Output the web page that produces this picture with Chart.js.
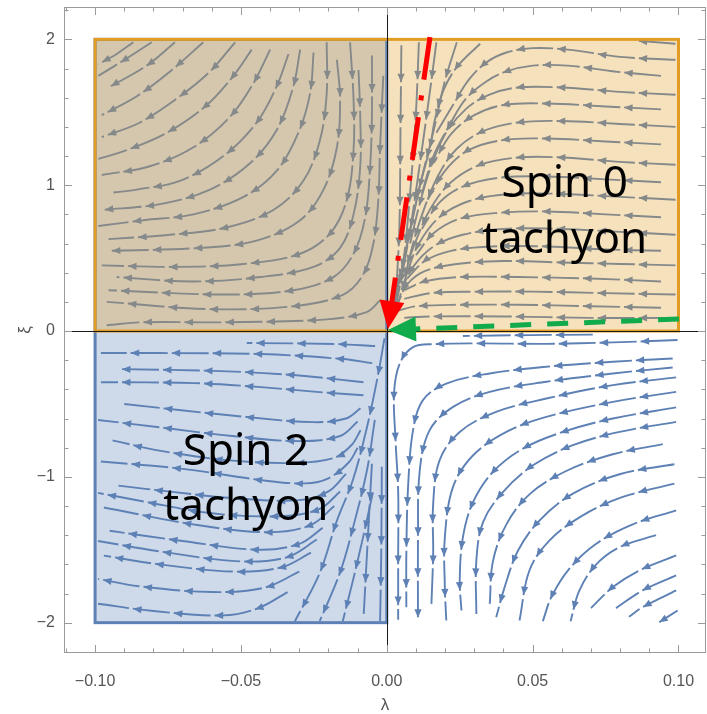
<!DOCTYPE html>
<html>
<head>
<meta charset="utf-8">
<script src="https://cdn.jsdelivr.net/npm/chart.js@4.4.0/dist/chart.umd.min.js"></script>
<style>
html, body { margin: 0; padding: 0; background: #fff; }
canvas { display: block; }
</style>
</head>
<body>
<canvas id="c" width="707" height="714"></canvas>
<script>
// tick labels
var xTickVals = [-0.1, -0.05, 0, 0.05, 0.1];
var yTickVals = [-2, -1, 0, 1, 2];

// shaded regions: [lambdaMin, lambdaMax, xiMin, xiMax]
var spin2Box = [-0.1, 0, -2, 2];
var spin0Box = [-0.1, 0.1, 0, 2];

// highlighted flows, [lambda, xi]
var redFlow = [[0.0148, 2.016], [0.0004, 0.014]];
var greenFlow = [[0.1002, 0.082], [0.0004, 0.007]];

// region labels: [lambda, xi of baseline, text]
var regionLabels = [
    [0.061, 0.92, 'Spin 0'], [0.061, 0.535, 'tachyon'],
    [-0.0483, -0.921, 'Spin 2'], [-0.0483, -1.299, 'tachyon']
];

// streamlines, points in flow order [lambda, xi]
var streamTopLeft = [
    [[-0.0869,1.98],[-0.0926,1.90],[-0.0989,1.83]],
    [[-0.0806,1.98],[-0.0891,1.87],[-0.0989,1.75]],
    [[-0.0726,1.98],[-0.0823,1.82],[-0.0954,1.67]],
    [[-0.0629,1.98],[-0.0743,1.78],[-0.0857,1.61],[-0.0977,1.48]],
    [[-0.052,1.98],[-0.0606,1.78],[-0.0709,1.61],[-0.0846,1.43],[-0.0977,1.33]],
    [[-0.0463,1.93],[-0.0526,1.75],[-0.0617,1.55],[-0.0754,1.36],[-0.0892,1.24],[-0.0989,1.18]],
    [[-0.040,1.93],[-0.0457,1.70],[-0.0537,1.47],[-0.0663,1.26],[-0.0812,1.13],[-0.0977,1.07]],
    [[-0.0337,1.90],[-0.0377,1.68],[-0.0446,1.43],[-0.056,1.20],[-0.0709,1.03],[-0.0857,0.97],[-0.0937,0.95]],
    [[-0.0297,1.93],[-0.032,1.68],[-0.0377,1.38],[-0.0469,1.15],[-0.0606,0.97],[-0.0777,0.87],[-0.0977,0.83]],
    [[-0.0251,1.91],[-0.0263,1.63],[-0.0303,1.36],[-0.0377,1.10],[-0.0491,0.92],[-0.0663,0.80],[-0.0834,0.76],[-0.0989,0.72]],
    [[-0.0206,1.98],[-0.0206,1.63],[-0.0229,1.31],[-0.0286,1.03],[-0.0389,0.83],[-0.0549,0.71],[-0.0743,0.66],[-0.0954,0.63]],
    [[-0.0171,1.86],[-0.016,1.59],[-0.0171,1.26],[-0.0217,0.97],[-0.0297,0.76],[-0.0446,0.62],[-0.064,0.57],[-0.0949,0.55]],
    [[-0.0126,1.98],[-0.0114,1.59],[-0.0114,1.24],[-0.0137,0.90],[-0.0194,0.67],[-0.0297,0.53],[-0.0491,0.46],[-0.072,0.44],[-0.0977,0.45]],
    [[-0.0097,1.79],[-0.0091,1.47],[-0.0091,1.13],[-0.0114,0.80],[-0.016,0.57],[-0.0251,0.44],[-0.0434,0.37],[-0.0663,0.34],[-0.0926,0.37]],
    [[-0.0051,1.89],[-0.0051,1.47],[-0.0057,1.13],[-0.0074,0.78],[-0.0114,0.53],[-0.0183,0.37],[-0.032,0.28],[-0.0549,0.25],[-0.0954,0.28]],
    [[-0.0012,1.75],[-0.0023,1.26],[-0.0029,0.90],[-0.0046,0.60],[-0.008,0.39],[-0.0149,0.25],[-0.032,0.17],[-0.0606,0.15],[-0.096,0.20]],
    [[-0.0023,0.21],[-0.0069,0.13],[-0.0206,0.08],[-0.0549,0.06],[-0.0834,0.06],[-0.096,0.04]]
];

var streamTopRight = [
    [[0.099,1.97],[0.086,1.99]],
    [[0.099,1.86],[0.080,1.88],[0.062,1.93],[0.050,1.94],[0.041,1.91],[0.034,1.84],[0.028,1.72],[0.023,1.56],[0.017,1.36]],
    [[0.094,1.75],[0.078,1.78],[0.062,1.82],[0.050,1.82],[0.041,1.78],[0.034,1.71],[0.027,1.59],[0.022,1.43],[0.016,1.20],[0.012,0.94]],
    [[0.099,1.62],[0.080,1.64],[0.060,1.67],[0.045,1.67],[0.035,1.62],[0.027,1.52],[0.020,1.35],[0.015,1.12],[0.011,0.85],[0.008,0.6]],
    [[0.094,1.52],[0.075,1.54],[0.055,1.56],[0.040,1.55],[0.030,1.48],[0.022,1.35],[0.016,1.15]],
    [[0.099,1.40],[0.080,1.42],[0.060,1.44],[0.045,1.43],[0.033,1.37],[0.024,1.25],[0.018,1.08],[0.013,0.85],[0.009,0.6],[0.006,0.35]],
    [[0.094,1.28],[0.075,1.30],[0.055,1.32],[0.040,1.31],[0.028,1.24],[0.020,1.10],[0.014,0.90]],
    [[0.099,1.14],[0.080,1.16],[0.060,1.19],[0.045,1.19],[0.032,1.14],[0.022,1.02],[0.015,0.84],[0.010,0.62],[0.006,0.40]],
    [[0.094,1.02],[0.075,1.04],[0.055,1.06],[0.038,1.05],[0.026,0.99],[0.018,0.88],[0.012,0.70]],
    [[0.099,0.90],[0.080,0.92],[0.060,0.94],[0.042,0.94],[0.028,0.89],[0.018,0.78],[0.011,0.60],[0.007,0.40],[0.004,0.2]],
    [[0.094,0.78],[0.075,0.80],[0.055,0.82],[0.038,0.81],[0.025,0.77],[0.016,0.67],[0.010,0.52]],
    [[0.099,0.66],[0.080,0.68],[0.060,0.70],[0.040,0.70],[0.026,0.66],[0.016,0.58],[0.009,0.44],[0.005,0.28]],
    [[0.094,0.55],[0.075,0.56],[0.055,0.58],[0.036,0.58],[0.022,0.55],[0.013,0.48],[0.007,0.36]],
    [[0.099,0.45],[0.080,0.46],[0.060,0.47],[0.040,0.48],[0.024,0.46],[0.013,0.41],[0.007,0.32],[0.004,0.2]],
    [[0.094,0.34],[0.070,0.36],[0.045,0.37],[0.025,0.37],[0.013,0.34],[0.006,0.28]],
    [[0.099,0.25],[0.075,0.26],[0.050,0.27],[0.030,0.27],[0.015,0.26],[0.006,0.22]],
    [[0.094,0.16],[0.070,0.17],[0.045,0.18],[0.025,0.18],[0.010,0.17],[0.004,0.14]],
    [[0.099,0.09],[0.070,0.09],[0.040,0.10],[0.015,0.10],[0.006,0.09]],
    [[0.005,1.96],[0.0047,1.4],[0.0043,0.7],[0.003,0.2]],
    [[0.011,1.98],[0.010,1.5],[0.008,0.95],[0.0055,0.45],[0.002,0.09]],
    [[0.017,1.98],[0.0145,1.6],[0.011,1.1],[0.0074,0.62],[0.003,0.16]],
    [[0.024,1.98],[0.020,1.72],[0.016,1.37],[0.011,0.97],[0.0062,0.52],[0.002,0.14]],
    [[0.032,1.97],[0.024,1.81],[0.0194,1.65],[0.0165,1.45],[0.0148,1.26],[0.0113,0.99],[0.007,0.6],[0.003,0.25]]
];

var streamBottomLeft = [
    [[-0.004,-0.103],[-0.018,-0.089],[-0.048,-0.082]],
    [[-0.005,-0.220],[-0.015,-0.192],[-0.043,-0.158],[-0.078,-0.151],[-0.098,-0.151]],
    [[-0.008,-0.351],[-0.032,-0.302],[-0.057,-0.275],[-0.092,-0.261]],
    [[-0.008,-0.44],[-0.023,-0.419],[-0.043,-0.385],[-0.066,-0.357],[-0.098,-0.351]],
    [[-0.009,-0.53],[-0.014,-0.60],[-0.025,-0.625],[-0.048,-0.59],[-0.072,-0.54],[-0.090,-0.50]],
    [[-0.010,-0.62],[-0.016,-0.72],[-0.030,-0.755],[-0.053,-0.72],[-0.078,-0.66],[-0.099,-0.61]],
    [[-0.009,-0.68],[-0.012,-0.78],[-0.018,-0.87],[-0.032,-0.905],[-0.055,-0.885],[-0.078,-0.82],[-0.094,-0.75]],
    [[-0.010,-0.80],[-0.013,-0.90],[-0.020,-1.01],[-0.028,-1.045],[-0.042,-1.025],[-0.07,-0.945],[-0.098,-0.895]],
    [[-0.014,-0.98],[-0.020,-1.10],[-0.030,-1.16],[-0.05,-1.15],[-0.075,-1.10],[-0.092,-1.06]],
    [[-0.016,-1.10],[-0.023,-1.22],[-0.036,-1.27],[-0.06,-1.25],[-0.083,-1.17],[-0.099,-1.11]],
    [[-0.018,-1.20],[-0.026,-1.33],[-0.040,-1.38],[-0.065,-1.33],[-0.097,-1.21]],
    [[-0.022,-1.35],[-0.030,-1.46],[-0.044,-1.50],[-0.07,-1.44],[-0.095,-1.37]],
    [[-0.024,-1.43],[-0.034,-1.55],[-0.050,-1.58],[-0.075,-1.52],[-0.099,-1.44]],
    [[-0.026,-1.52],[-0.036,-1.62],[-0.052,-1.65],[-0.078,-1.60],[-0.097,-1.54]],
    [[-0.030,-1.65],[-0.042,-1.76],[-0.060,-1.79],[-0.085,-1.75],[-0.099,-1.70]],
    [[-0.034,-1.79],[-0.044,-1.90],[-0.056,-1.95],[-0.080,-1.92],[-0.099,-1.87]],
    [[-0.0008,-0.05],[-0.003,-0.30],[-0.0068,-0.66],[-0.0116,-1.02],[-0.0171,-1.30],[-0.023,-1.66],[-0.0315,-1.99]],
    [[-0.0041,-0.61],[-0.0068,-0.955],[-0.0116,-1.35],[-0.0161,-1.66],[-0.023,-1.99]],
    [[-0.0048,-1.11],[-0.0082,-1.42],[-0.0116,-1.71],[-0.0151,-1.99]],
    [[-0.0051,-0.91],[-0.0065,-1.42],[-0.0079,-1.94]],
    [[-0.0017,-0.93],[-0.0019,-1.52],[-0.0023,-1.99]]
];

var streamBottomRight = [
    [[0.0706,-0.025],[0.0489,-0.028],[0.0261,-0.034]],
    [[0.0997,-0.062],[0.0775,-0.078],[0.0547,-0.088],[0.032,-0.085],[0.016,-0.09],[0.009,-0.11],[0.0045,-0.22],[0.0025,-0.42],[0.003,-0.75],[0.0039,-1.10],[0.0039,-1.55],[0.0039,-1.98]],
    [[0.098,-0.188],[0.0775,-0.211],[0.0547,-0.245],[0.0353,-0.291],[0.0204,-0.360],[0.0124,-0.474],[0.009,-0.680],[0.0073,-1.069],[0.0067,-1.527],[0.0067,-1.894]],
    [[0.098,-0.25],[0.0775,-0.291],[0.0547,-0.348],[0.0353,-0.417],[0.0227,-0.520],[0.0147,-0.680],[0.0113,-0.955],[0.0107,-1.413],[0.0107,-1.963]],
    [[0.0992,-0.318],[0.0775,-0.371],[0.0547,-0.463],[0.0375,-0.554],[0.025,-0.692],[0.0181,-0.886],[0.0159,-1.184],[0.0159,-1.527],[0.0153,-1.871]],
    [[0.0992,-0.417],[0.0775,-0.486],[0.0547,-0.589],[0.041,-0.692],[0.0296,-0.852],[0.0227,-1.069],[0.0199,-1.413],[0.0199,-1.756],[0.0204,-1.985]],
    [[0.0992,-0.524],[0.0775,-0.600],[0.0604,-0.692],[0.0467,-0.806],[0.0364,-0.966],[0.0296,-1.172],[0.0261,-1.413],[0.025,-1.711],[0.0256,-1.917]],
    [[0.0992,-0.623],[0.0798,-0.692],[0.0638,-0.783],[0.0501,-0.921],[0.0398,-1.104],[0.033,-1.310],[0.0307,-1.573],[0.0307,-1.94]],
    [[0.0946,-0.776],[0.0775,-0.845],[0.0615,-0.96],[0.0489,-1.12],[0.041,-1.326],[0.0364,-1.578],[0.0353,-1.871]],
    [[0.0986,-0.914],[0.0798,-0.982],[0.0638,-1.115],[0.0524,-1.298],[0.045,-1.505],[0.0404,-1.756],[0.0375,-1.963]],
    [[0.0986,-1.047],[0.0809,-1.138],[0.0672,-1.264],[0.0558,-1.436],[0.0489,-1.642],[0.0455,-1.985]],
    [[0.0992,-1.23],[0.0843,-1.326],[0.0718,-1.459],[0.0626,-1.630],[0.0564,-1.825],[0.0535,-1.99]],
    [[0.0923,-1.40],[0.080,-1.48],[0.0718,-1.60],[0.0660,-1.78],[0.0630,-1.99]],
    [[0.0992,-1.539],[0.0866,-1.642],[0.0775,-1.756],[0.0700,-1.90]],
    [[0.0992,-1.676],[0.0877,-1.779],[0.0786,-1.90]],
    [[0.0992,-1.779],[0.0877,-1.894],[0.083,-1.96]],
    [[0.0997,-1.917],[0.0934,-1.997]]
];

var streamColor = '#5E81B5';
var blueLine = '#5E81B5', blueFill = 'rgba(94,129,181,0.3)';
var orangeLine = '#E19C24', orangeFill = 'rgba(225,156,36,0.3)';
var redColor = '#ff0000', greenColor = '#12ab4c';
var axisGray = '#9a9a9a', labelGray = '#555';

var DASH = 37, GAP = 4;

function toXY(p) { return {x: p[0], y: p[1]}; }

var datasets = [];
datasets.push({
    data: redFlow.map(toXY), showLine: true, pointRadius: 0, borderColor: redColor,
    borderWidth: 5, borderDash: [43, 16, 5, 17], borderCapStyle: 'butt', tension: 0, flow: 'red'
});
datasets.push({
    data: greenFlow.map(toXY), showLine: true, pointRadius: 0, borderColor: greenColor,
    borderWidth: 5, borderDash: [21, 16], borderCapStyle: 'butt', tension: 0, flow: 'green'
});
[streamTopLeft, streamTopRight, streamBottomLeft, streamBottomRight].forEach(function (group) {
    group.forEach(function (line) {
        datasets.push({
            data: line.map(toXY), showLine: true, pointRadius: 0, borderColor: streamColor,
            borderWidth: 1.9, borderDash: [DASH, GAP], borderCapStyle: 'butt', tension: 0.35, stream: true
        });
    });
});

function arrowHead(ctx, tx, ty, dx, dy, len, half, color) {
    var n = Math.sqrt(dx * dx + dy * dy) || 1;
    dx /= n; dy /= n;
    var bx = tx - dx * len, by = ty - dy * len;
    ctx.fillStyle = color;
    ctx.beginPath();
    ctx.moveTo(tx, ty);
    ctx.lineTo(bx - dy * half, by + dx * half);
    ctx.lineTo(bx + dy * half, by - dx * half);
    ctx.closePath();
    ctx.fill();
}

// pixel polyline following the drawn bezier curve
function samplePath(pts) {
    var out = [[pts[0].x, pts[0].y]];
    for (var i = 0; i < pts.length - 1; i++) {
        var a = pts[i], b = pts[i + 1];
        var c1x = a.cp2x != null ? a.cp2x : a.x, c1y = a.cp2y != null ? a.cp2y : a.y;
        var c2x = b.cp1x != null ? b.cp1x : b.x, c2y = b.cp1y != null ? b.cp1y : b.y;
        for (var k = 1; k <= 16; k++) {
            var t = k / 16, u = 1 - t;
            out.push([
                u * u * u * a.x + 3 * u * u * t * c1x + 3 * u * t * t * c2x + t * t * t * b.x,
                u * u * u * a.y + 3 * u * u * t * c1y + 3 * u * t * t * c2y + t * t * t * b.y
            ]);
        }
    }
    return out;
}

function drawStreamArrows(chart) {
    var ctx = chart.ctx;
    chart.data.datasets.forEach(function (ds, i) {
        if (!ds.stream) return;
        var meta = chart.getDatasetMeta(i);
        if (meta.dataset && meta.dataset.updateControlPoints) meta.dataset.updateControlPoints(chart.chartArea, 'x');
        var path = samplePath(meta.data);
        var cum = [0];
        for (var j = 1; j < path.length; j++) {
            var ddx = path[j][0] - path[j - 1][0], ddy = path[j][1] - path[j - 1][1];
            cum.push(cum[j - 1] + Math.sqrt(ddx * ddx + ddy * ddy));
        }
        var total = cum[cum.length - 1];
        var tips = [];
        for (var s = DASH; s <= total + 0.5; s += DASH + GAP) tips.push(s);
        if (!tips.length) tips.push(total);
        tips.forEach(function (s) {
            var j = 1;
            while (j < cum.length - 1 && cum[j] < s) j++;
            var f = (s - cum[j - 1]) / ((cum[j] - cum[j - 1]) || 1);
            var tx = path[j - 1][0] + f * (path[j][0] - path[j - 1][0]);
            var ty = path[j - 1][1] + f * (path[j][1] - path[j - 1][1]);
            arrowHead(ctx, tx, ty, path[j][0] - path[j - 1][0], path[j][1] - path[j - 1][1], 8.5, 3.6, streamColor);
        });
    });
}

function boxPx(chart, b) {
    var x = chart.scales.x, y = chart.scales.y;
    var x0 = x.getPixelForValue(b[0]), x1 = x.getPixelForValue(b[1]);
    var y0 = y.getPixelForValue(b[3]), y1 = y.getPixelForValue(b[2]);
    return [x0, y0, x1 - x0, y1 - y0];
}

var overlayPlugin = {
    id: 'overlay',
    beforeDatasetDraw: function (chart, args) {
        if (args.index !== 1) return;
        var ctx = chart.ctx, area = chart.chartArea;
        ctx.save();
        ctx.beginPath();
        ctx.rect(area.left, area.top, area.right - area.left, area.bottom - area.top);
        ctx.clip();
        drawStreamArrows(chart);
        var b2 = boxPx(chart, spin2Box), b0 = boxPx(chart, spin0Box);
        ctx.fillStyle = blueFill;
        ctx.fillRect(b2[0], b2[1], b2[2], b2[3]);
        ctx.fillStyle = orangeFill;
        ctx.fillRect(b0[0], b0[1], b0[2], b0[3]);
        ctx.lineWidth = 3;
        ctx.strokeStyle = blueLine;
        ctx.strokeRect(b2[0], b2[1], b2[2], b2[3]);
        ctx.strokeStyle = orangeLine;
        ctx.strokeRect(b0[0], b0[1], b0[2], b0[3]);
        // coordinate axes
        var x0 = Math.round(chart.scales.x.getPixelForValue(0)) + 0.5;
        var y0 = Math.round(chart.scales.y.getPixelForValue(0)) + 0.5;
        ctx.strokeStyle = '#1a1a1a';
        ctx.lineWidth = 1;
        ctx.beginPath();
        ctx.moveTo(x0, area.top); ctx.lineTo(x0, area.bottom);
        ctx.moveTo(area.left, y0); ctx.lineTo(area.right, y0);
        ctx.stroke();
        ctx.restore();
    },
    afterDatasetsDraw: function (chart) {
        var ctx = chart.ctx, area = chart.chartArea;
        var xs = chart.scales.x, ys = chart.scales.y;
        // heads of the highlighted flows
        [[redFlow, redColor], [greenFlow, greenColor]].forEach(function (f) {
            var a = f[0][0], b = f[0][1];
            var ax = xs.getPixelForValue(a[0]), ay = ys.getPixelForValue(a[1]);
            var bx = xs.getPixelForValue(b[0]), by = ys.getPixelForValue(b[1]);
            arrowHead(ctx, bx, by, bx - ax, by - ay, 28, 12.5, f[1]);
        });
        // region labels
        ctx.save();
        ctx.fillStyle = '#000';
        ctx.font = '44px "Noto Sans"';
        ctx.textAlign = 'center';
        ctx.textBaseline = 'alphabetic';
        regionLabels.forEach(function (l) {
            ctx.fillText(l[2], xs.getPixelForValue(l[0]), ys.getPixelForValue(l[1]));
        });
        ctx.restore();
        // frame and inward ticks
        ctx.save();
        ctx.strokeStyle = axisGray;
        ctx.lineWidth = 1;
        ctx.strokeRect(area.left + 0.5, area.top + 0.5, area.right - area.left - 1, area.bottom - area.top - 1);
        ctx.beginPath();
        for (var k = -11; k <= 10; k++) {
            var px = Math.round(xs.getPixelForValue(k / 100)) + 0.5;
            var len = (k % 5 === 0) ? 8 : 4.5;
            ctx.moveTo(px, area.bottom); ctx.lineTo(px, area.bottom - len);
            ctx.moveTo(px, area.top); ctx.lineTo(px, area.top + len);
        }
        for (var m = -11; m <= 11; m++) {
            var py = Math.round(ys.getPixelForValue(m * 0.2)) + 0.5;
            var len2 = (m % 5 === 0) ? 8 : 4.5;
            ctx.moveTo(area.left, py); ctx.lineTo(area.left + len2, py);
            ctx.moveTo(area.right, py); ctx.lineTo(area.right - len2, py);
        }
        ctx.stroke();
        ctx.restore();
    }
};

function fmtNum(v, d) {
    var s = Math.abs(v).toFixed(d);
    return (v < -1e-9 ? '\u2212' : '') + s;
}

new Chart(document.getElementById('c'), {
    type: 'scatter',
    data: { datasets: datasets },
    options: {
        responsive: false,
        animation: false,
        devicePixelRatio: 1,
        layout: { padding: { top: 7, right: 1, left: 0, bottom: 0 } },
        plugins: { legend: { display: false }, tooltip: { enabled: false } },
        scales: {
            x: {
                type: 'linear', min: -0.11066, max: 0.10943,
                grid: { display: false, drawTicks: false }, border: { display: false },
                afterBuildTicks: function (s) { s.ticks = xTickVals.map(function (v) { return { value: v }; }); },
                afterFit: function (s) { s.height = 61; s.paddingLeft = 0; s.paddingRight = 0; },
                ticks: {
                    autoSkip: false, maxRotation: 0, padding: 19, color: labelGray,
                    font: { family: 'Liberation Sans', size: 16 },
                    callback: function (v) { return fmtNum(v, 2); }
                },
                title: {
                    display: true, text: '\u03bb', color: labelGray,
                    font: { family: 'Liberation Sans', size: 17, lineHeight: 1 },
                    padding: { top: 0, bottom: 0 }
                }
            },
            y: {
                type: 'linear', min: -2.208, max: 2.222,
                grid: { display: false, drawTicks: false }, border: { display: false },
                afterBuildTicks: function (s) { s.ticks = yTickVals.map(function (v) { return { value: v }; }); },
                afterFit: function (s) { s.width = 64; s.paddingTop = 0; s.paddingBottom = 0; },
                ticks: {
                    autoSkip: false, padding: 9, color: labelGray,
                    font: { family: 'Liberation Sans', size: 16 },
                    callback: function (v) { return fmtNum(v, 0); }
                },
                title: {
                    display: true, text: '\u03be', color: labelGray,
                    font: { family: 'Liberation Sans', size: 17, lineHeight: 1 },
                    padding: { top: 17, bottom: 0 }
                }
            }
        }
    },
    plugins: [overlayPlugin]
});
</script>
</body>
</html>
